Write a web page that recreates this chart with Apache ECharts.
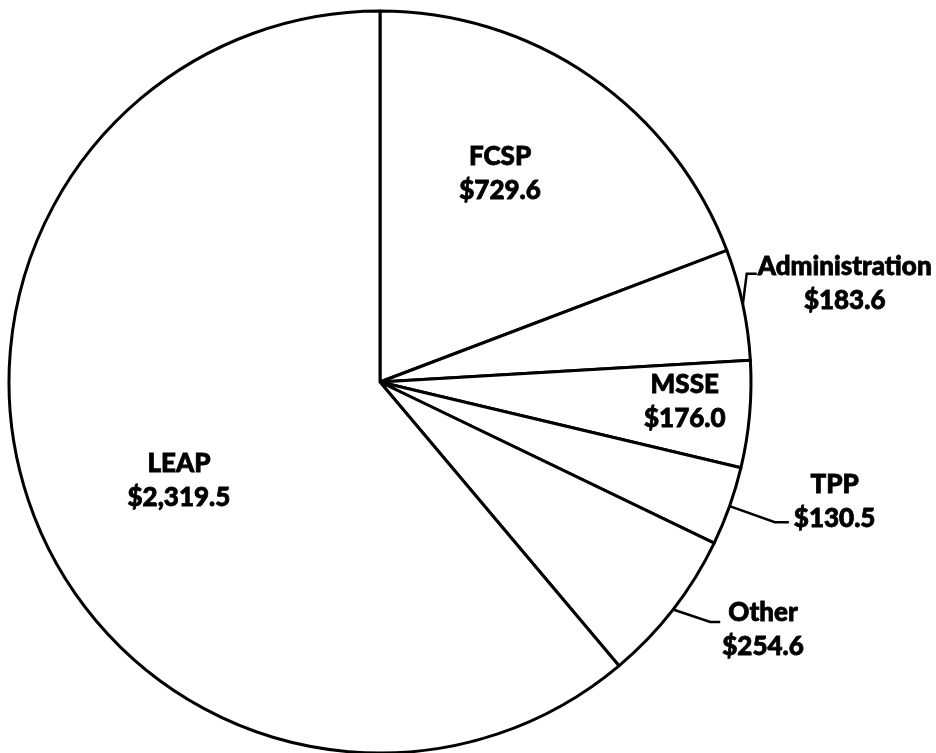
<!DOCTYPE html>
<html>
<head>
<meta charset="utf-8">
<script src="https://cdn.jsdelivr.net/npm/echarts@6/dist/echarts.min.js"></script>
<style>
  html, body { margin: 0; padding: 0; background: #fff; }
  #chart { width: 936px; height: 753px; }
</style>
</head>
<body>
<div id="chart"></div>
<script>
// clockwise from 12 o'clock
var categories = ['FCSP', 'Administration', 'MSSE', 'TPP', 'Other', 'LEAP'];
var values = [729.6, 183.6, 176.0, 130.5, 254.6, 2319.5];

// which labels sit inside the slice
var insideLabel = [true, false, true, false, false, true];
// leader line lengths for the outside labels
var lineLen = [0, 4, 0, 48, 4, 0];
var lineLen2 = [0, 10, 0, 14, 44, 0];
// bend of the leader's elbow and end (px)
var lineBend = [0, -30, 0, 0, 10, 0];
var elbowShift = [0, 0, 0, 0, 34, 0];
// nudges for the label boxes (px)
var labelShift = [[13, -53], [-4, -20], [117, 3], [0, -21], [-3, 18], [-24, 34]];

var FONT = 'Lato, "Liberation Sans", Arial, sans-serif';

function money (v) {
  return '$' + v.toLocaleString('en-US', { minimumFractionDigits: 1, maximumFractionDigits: 1 })
}

var chart = echarts.init(document.getElementById('chart'))

var pieData = categories.map(function (name, i) {
  return {
    name: name,
    value: values[i],
    label: {
      position: insideLabel[i] ? 'inside' : 'outside'
    },
    labelLine: {
      show: !insideLabel[i],
      length: lineLen[i],
      length2: lineLen2[i]
    }
  }
})

chart.setOption({
  animation: false,
  series: [{
    type: 'pie',
    center: [380, 382],
    radius: 371,
    startAngle: 90,
    clockwise: true,
    avoidLabelOverlap: false,
    itemStyle: {
      color: '#ffffff',
      borderColor: '#000000',
      borderWidth: 3
    },
    emphasis: { disabled: true },
    label: {
      show: true,
      color: '#000',
      fontFamily: FONT,
      fontWeight: 900,
      fontSize: 26,
      lineHeight: 34,
      formatter: function (p) {
        return '{t|' + p.name + '}\n{t|' + money(p.value) + '}'
      },
      rich: {
        t: {
          align: 'center',
          fontFamily: FONT,
          fontWeight: 900,
          fontSize: 26,
          lineHeight: 34,
          color: '#000',
          textBorderColor: '#000',
          textBorderWidth: 0.8
        }
      }
    },
    labelLine: {
      lineStyle: { color: '#000', width: 2.5 }
    },
    labelLayout: function (p) {
      var i = p.dataIndex
      var s = labelShift[i]
      var out = { dx: s[0], dy: s[1] }
      var pts = p.labelLinePoints
      if (!insideLabel[i] && pts && (lineBend[i] || elbowShift[i])) {
        out.labelLinePoints = [
          pts[0],
          [pts[1][0] + elbowShift[i], pts[1][1] + lineBend[i]],
          [pts[2][0], pts[2][1] + lineBend[i]]
        ]
      }
      return out
    },
    data: pieData
  }]
})
</script>
</body>
</html>
